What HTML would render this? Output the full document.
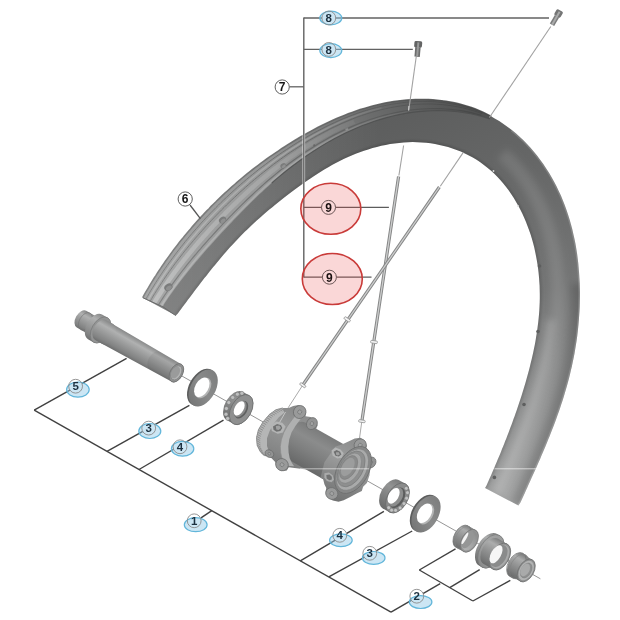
<!DOCTYPE html>
<html><head><meta charset="utf-8"><title>Wheel exploded view</title>
<style>html,body{margin:0;padding:0;background:#fff;}body{width:620px;height:620px;overflow:hidden;font-family:"Liberation Sans",sans-serif;}svg{display:block;filter:blur(0.4px);}</style>
</head><body>
<svg width="620" height="620" viewBox="0 0 620 620">
<defs><linearGradient id="cg1" gradientUnits="userSpaceOnUse" x1="139.0" y1="339.3" x2="128.4" y2="358.1"><stop offset="0" stop-color="#888989"/><stop offset="0.25" stop-color="#b0b1b1"/><stop offset="0.5" stop-color="#9c9d9d"/><stop offset="0.85" stop-color="#828383"/><stop offset="1" stop-color="#6f7070"/></linearGradient><linearGradient id="cg2" gradientUnits="userSpaceOnUse" x1="90.6" y1="313.3" x2="81.1" y2="330.0"><stop offset="0" stop-color="#888989"/><stop offset="0.25" stop-color="#b0b1b1"/><stop offset="0.5" stop-color="#9c9d9d"/><stop offset="0.85" stop-color="#828383"/><stop offset="1" stop-color="#6f7070"/></linearGradient><linearGradient id="cg3" gradientUnits="userSpaceOnUse" x1="105.0" y1="316.2" x2="91.0" y2="340.9"><stop offset="0" stop-color="#888989"/><stop offset="0.25" stop-color="#b0b1b1"/><stop offset="0.5" stop-color="#9c9d9d"/><stop offset="0.85" stop-color="#828383"/><stop offset="1" stop-color="#6f7070"/></linearGradient><linearGradient id="cg4" gradientUnits="userSpaceOnUse" x1="109.7" y1="322.2" x2="98.6" y2="341.8"><stop offset="0" stop-color="#888989"/><stop offset="0.25" stop-color="#b0b1b1"/><stop offset="0.5" stop-color="#9c9d9d"/><stop offset="0.85" stop-color="#828383"/><stop offset="1" stop-color="#6f7070"/></linearGradient><linearGradient id="cg5" gradientUnits="userSpaceOnUse" x1="213.0" y1="370.6" x2="193.3" y2="405.4"><stop offset="0" stop-color="#7c7d7d"/><stop offset="0.5" stop-color="#8a8b8b"/><stop offset="1" stop-color="#747575"/></linearGradient><linearGradient id="cg6" gradientUnits="userSpaceOnUse" x1="435.8" y1="496.7" x2="416.1" y2="531.5"><stop offset="0" stop-color="#7c7d7d"/><stop offset="0.5" stop-color="#8a8b8b"/><stop offset="1" stop-color="#747575"/></linearGradient><linearGradient id="cg7" gradientUnits="userSpaceOnUse" x1="245.8" y1="393.4" x2="229.7" y2="421.8"><stop offset="0" stop-color="#7a7b7b"/><stop offset="0.3" stop-color="#939494"/><stop offset="1" stop-color="#6a6b6b"/></linearGradient><linearGradient id="cg8" gradientUnits="userSpaceOnUse" x1="402.1" y1="481.8" x2="386.0" y2="510.2"><stop offset="0" stop-color="#7a7b7b"/><stop offset="0.3" stop-color="#939494"/><stop offset="1" stop-color="#6a6b6b"/></linearGradient><linearGradient id="cg9" gradientUnits="userSpaceOnUse" x1="471.8" y1="527.9" x2="459.6" y2="549.5"><stop offset="0" stop-color="#7d7e7e"/><stop offset="0.22" stop-color="#acadad"/><stop offset="0.45" stop-color="#989999"/><stop offset="0.8" stop-color="#7c7d7d"/><stop offset="1" stop-color="#6a6b6b"/></linearGradient><linearGradient id="cg10" gradientUnits="userSpaceOnUse" x1="474.7" y1="531.6" x2="464.2" y2="550.0"><stop offset="0" stop-color="#8a8b8b"/><stop offset="0.5" stop-color="#a4a5a5"/><stop offset="1" stop-color="#b3b4b4"/></linearGradient><linearGradient id="cg11" gradientUnits="userSpaceOnUse" x1="497.2" y1="534.1" x2="479.3" y2="565.8"><stop offset="0" stop-color="#7d7e7e"/><stop offset="0.22" stop-color="#acadad"/><stop offset="0.45" stop-color="#989999"/><stop offset="0.8" stop-color="#7c7d7d"/><stop offset="1" stop-color="#6a6b6b"/></linearGradient><linearGradient id="cg12" gradientUnits="userSpaceOnUse" x1="497.2" y1="534.1" x2="479.3" y2="565.8"><stop offset="0" stop-color="#9a9b9b"/><stop offset="0.5" stop-color="#a6a7a7"/><stop offset="1" stop-color="#868787"/></linearGradient><linearGradient id="cg13" gradientUnits="userSpaceOnUse" x1="507.2" y1="543.9" x2="492.8" y2="569.3"><stop offset="0" stop-color="#7d7e7e"/><stop offset="0.22" stop-color="#acadad"/><stop offset="0.45" stop-color="#989999"/><stop offset="0.8" stop-color="#7c7d7d"/><stop offset="1" stop-color="#6a6b6b"/></linearGradient><linearGradient id="cg14" gradientUnits="userSpaceOnUse" x1="527.9" y1="556.0" x2="514.7" y2="579.4"><stop offset="0" stop-color="#7d7e7e"/><stop offset="0.22" stop-color="#acadad"/><stop offset="0.45" stop-color="#989999"/><stop offset="0.8" stop-color="#7c7d7d"/><stop offset="1" stop-color="#6a6b6b"/></linearGradient><linearGradient id="cg15" gradientUnits="userSpaceOnUse" x1="527.4" y1="556.9" x2="515.2" y2="578.5"><stop offset="0" stop-color="#7d7e7e"/><stop offset="0.22" stop-color="#acadad"/><stop offset="0.45" stop-color="#989999"/><stop offset="0.8" stop-color="#7c7d7d"/><stop offset="1" stop-color="#6a6b6b"/></linearGradient><linearGradient id="hubl" gradientUnits="userSpaceOnUse" x1="300" y1="405" x2="272" y2="465"><stop offset="0" stop-color="#868787"/><stop offset="0.4" stop-color="#979898"/><stop offset="0.8" stop-color="#848585"/><stop offset="1" stop-color="#747575"/></linearGradient><linearGradient id="hubb" gradientUnits="userSpaceOnUse" x1="330.7" y1="437.2" x2="311.0" y2="472.0"><stop offset="0" stop-color="#7b7c7c"/><stop offset="0.3" stop-color="#8b8c8c"/><stop offset="0.6" stop-color="#7e7f7f"/><stop offset="1" stop-color="#686969"/></linearGradient><linearGradient id="hubr" gradientUnits="userSpaceOnUse" x1="360" y1="438" x2="334" y2="498"><stop offset="0" stop-color="#898a8a"/><stop offset="0.4" stop-color="#9b9c9c"/><stop offset="1" stop-color="#737474"/></linearGradient><filter id="noop" x="0" y="0" width="100%" height="100%" filterUnits="userSpaceOnUse"><feOffset dx="0" dy="0"/></filter></defs>
<defs>
<linearGradient id="gside" gradientUnits="userSpaceOnUse" x1="350" y1="100" x2="520" y2="500">
<stop offset="0" stop-color="#5b5c5c"/><stop offset="0.1" stop-color="#5e5f5f"/><stop offset="0.2" stop-color="#626363"/><stop offset="0.3" stop-color="#666767"/><stop offset="0.42" stop-color="#6c6d6d"/><stop offset="0.58" stop-color="#747575"/><stop offset="0.75" stop-color="#888989"/><stop offset="1" stop-color="#a0a1a1"/></linearGradient>
<linearGradient id="gbed" gradientUnits="userSpaceOnUse" x1="150" y1="300" x2="470" y2="100">
<stop offset="0" stop-color="#a6a7a7"/><stop offset="0.45" stop-color="#969797"/><stop offset="0.75" stop-color="#6c6d6d"/><stop offset="1" stop-color="#505151"/></linearGradient>
<linearGradient id="fadeL" gradientUnits="userSpaceOnUse" x1="150" y1="0" x2="440" y2="0"><stop offset="0" stop-color="#b8b9b9"/><stop offset="0.5" stop-color="#a8a9a9" stop-opacity="0.8"/><stop offset="1" stop-color="#777" stop-opacity="0"/></linearGradient>
<linearGradient id="fadeD" gradientUnits="userSpaceOnUse" x1="150" y1="0" x2="470" y2="0"><stop offset="0" stop-color="#828383"/><stop offset="0.6" stop-color="#626363" stop-opacity="0.9"/><stop offset="1" stop-color="#464747" stop-opacity="0.85"/></linearGradient>
<linearGradient id="fadeC" gradientUnits="userSpaceOnUse" x1="150" y1="0" x2="400" y2="0"><stop offset="0" stop-color="#c6c7c7" stop-opacity="0.8"/><stop offset="0.5" stop-color="#b0b1b1" stop-opacity="0.5"/><stop offset="1" stop-color="#888" stop-opacity="0"/></linearGradient>
<linearGradient id="leftlite" gradientUnits="userSpaceOnUse" x1="140" y1="0" x2="380" y2="0"><stop offset="0" stop-color="#fff" stop-opacity="0.20"/><stop offset="0.5" stop-color="#fff" stop-opacity="0.12"/><stop offset="1" stop-color="#fff" stop-opacity="0"/></linearGradient>
<filter id="b2" x="-20%" y="-20%" width="140%" height="140%"><feGaussianBlur stdDeviation="3.5"/></filter>
<filter id="b1" x="-20%" y="-20%" width="140%" height="140%"><feGaussianBlur stdDeviation="1.2"/></filter>
<filter id="b0" x="-20%" y="-20%" width="140%" height="140%"><feGaussianBlur stdDeviation="0.5"/></filter>
<clipPath id="rimclip"><polygon points="142.8,297.7 144.4,294.7 146.1,291.8 147.8,288.9 149.5,285.9 151.2,283.0 153.0,280.2 154.8,277.3 156.6,274.4 158.5,271.6 160.4,268.7 162.3,265.9 164.2,263.1 166.1,260.3 168.1,257.5 170.2,254.7 172.2,251.9 174.3,249.2 176.4,246.4 178.5,243.7 180.7,240.9 182.8,238.2 185.1,235.5 187.3,232.8 189.6,230.1 191.9,227.4 194.3,224.7 196.6,222.0 199.0,219.3 201.5,216.6 204.0,214.0 206.5,211.3 209.0,208.7 211.6,206.0 214.3,203.4 216.9,200.8 219.6,198.2 222.4,195.5 225.2,192.9 228.0,190.3 230.8,187.8 233.8,185.2 236.7,182.6 239.7,180.0 242.8,177.5 245.8,174.9 249.0,172.4 252.2,169.9 255.4,167.4 258.7,164.9 262.0,162.4 265.4,159.9 268.9,157.5 272.4,155.0 275.9,152.6 279.5,150.1 283.2,147.7 286.9,145.4 290.7,143.0 294.5,140.6 298.4,138.3 302.3,136.0 306.4,133.7 310.4,131.5 314.6,129.2 318.8,127.0 323.1,124.9 327.4,122.8 331.8,120.7 336.3,118.7 340.8,116.8 345.4,114.9 350.1,113.1 354.8,111.4 359.6,109.8 364.4,108.3 369.3,106.9 374.2,105.6 379.2,104.4 384.2,103.3 389.3,102.3 394.4,101.5 399.5,100.8 404.7,100.3 409.8,99.9 415.0,99.6 420.2,99.5 425.4,99.5 430.6,99.7 435.8,100.1 441.0,100.6 446.1,101.4 451.2,102.2 456.3,103.3 461.4,104.5 466.4,106.0 471.3,107.6 476.1,109.4 480.9,111.3 485.6,113.5 490.2,115.8 494.7,118.4 499.2,121.0 503.5,123.9 507.7,126.9 511.8,130.0 515.8,133.3 519.6,136.8 523.4,140.3 527.0,144.0 530.5,147.8 533.9,151.7 537.2,155.8 540.3,159.9 543.3,164.1 546.2,168.4 549.0,172.8 551.6,177.2 554.1,181.7 556.5,186.3 558.7,190.9 560.9,195.6 562.8,200.3 564.7,205.1 566.5,209.9 568.1,214.7 569.6,219.5 571.0,224.4 572.3,229.3 573.4,234.2 574.5,239.1 575.5,243.9 576.3,248.8 577.1,253.7 577.7,258.6 578.3,263.4 578.7,268.3 579.1,273.1 579.4,277.8 579.7,282.6 579.8,287.3 579.9,292.0 579.9,296.7 579.8,301.3 579.7,305.9 579.5,310.5 579.2,315.0 578.9,319.5 578.5,323.9 578.1,328.3 577.6,332.7 577.1,337.1 576.5,341.3 575.8,345.6 575.1,349.8 574.4,354.0 573.6,358.1 572.7,362.2 571.9,366.3 570.9,370.3 570.0,374.2 569.0,378.2 568.0,382.1 566.9,385.9 565.8,389.7 564.7,393.5 563.6,397.2 562.4,400.9 561.2,404.6 560.0,408.2 558.8,411.8 557.5,415.3 556.2,418.9 555.0,422.3 553.7,425.8 552.3,429.2 551.0,432.6 549.7,436.0 548.3,439.3 547.0,442.6 545.6,445.9 544.2,449.2 542.8,452.4 541.4,455.7 540.1,458.9 538.7,462.1 537.3,465.2 535.9,468.4 534.5,471.5 533.0,474.7 531.6,477.8 530.2,480.9 528.8,484.1 527.4,487.2 526.0,490.3 524.6,493.4 523.2,496.5 521.8,499.6 520.3,502.8 518.4,505.6 485.0,487.9 486.5,485.5 487.6,482.9 488.8,480.3 489.9,477.7 491.1,475.2 492.2,472.6 493.3,470.0 494.4,467.4 495.5,464.8 496.6,462.2 497.7,459.6 498.8,457.0 499.9,454.4 501.0,451.7 502.0,449.1 503.1,446.4 504.2,443.8 505.2,441.1 506.3,438.4 507.3,435.7 508.4,433.0 509.4,430.2 510.4,427.5 511.5,424.7 512.5,421.9 513.5,419.1 514.6,416.2 515.6,413.3 516.6,410.4 517.6,407.5 518.6,404.6 519.6,401.6 520.6,398.6 521.6,395.5 522.5,392.4 523.5,389.3 524.4,386.2 525.4,383.0 526.3,379.8 527.2,376.5 528.1,373.2 529.0,369.9 529.9,366.5 530.7,363.0 531.6,359.6 532.4,356.1 533.2,352.5 533.9,348.9 534.7,345.2 535.4,341.6 536.0,337.8 536.6,334.0 537.2,330.2 537.7,326.3 538.2,322.4 538.6,318.5 539.0,314.5 539.3,310.5 539.5,306.4 539.7,302.3 539.8,298.2 539.8,294.1 539.7,289.9 539.6,285.7 539.3,281.5 539.0,277.2 538.6,273.0 538.1,268.7 537.5,264.4 536.8,260.2 536.0,255.9 535.1,251.6 534.2,247.3 533.1,243.1 531.9,238.8 530.6,234.6 529.2,230.4 527.6,226.2 526.0,222.0 524.3,217.9 522.4,213.8 520.4,209.8 518.3,205.8 516.1,201.9 513.8,198.0 511.3,194.3 508.8,190.6 506.1,187.0 503.3,183.5 500.3,180.1 497.3,176.8 494.1,173.6 490.8,170.6 487.4,167.7 483.9,164.9 480.3,162.3 476.6,159.8 472.8,157.5 468.9,155.4 464.9,153.4 460.8,151.6 456.6,149.9 452.4,148.4 448.1,147.0 443.8,145.9 439.4,144.9 435.0,144.0 430.6,143.3 426.1,142.8 421.6,142.4 417.1,142.2 412.6,142.1 408.1,142.2 403.6,142.5 399.1,142.9 394.6,143.4 390.1,144.1 385.7,144.9 381.3,145.8 376.9,146.9 372.5,148.1 368.2,149.4 364.0,150.8 359.8,152.3 355.7,153.8 351.6,155.5 347.5,157.3 343.6,159.1 339.7,161.1 335.8,163.0 332.0,165.1 328.3,167.2 324.7,169.3 321.1,171.5 317.6,173.7 314.1,175.9 310.8,178.2 307.4,180.4 304.2,182.7 301.0,185.0 297.9,187.3 294.8,189.6 291.8,191.8 288.8,194.1 285.9,196.3 283.0,198.6 280.2,200.8 277.4,203.0 274.6,205.2 272.0,207.4 269.3,209.6 266.7,211.8 264.1,214.0 261.6,216.2 259.1,218.4 256.7,220.6 254.3,222.8 251.9,225.0 249.6,227.2 247.3,229.4 245.0,231.6 242.8,233.8 240.6,236.0 238.5,238.2 236.4,240.4 234.3,242.7 232.2,244.9 230.2,247.1 228.2,249.3 226.3,251.6 224.3,253.8 222.4,256.0 220.5,258.2 218.7,260.4 216.8,262.7 215.0,264.9 213.2,267.1 211.4,269.3 209.6,271.5 207.9,273.7 206.2,275.9 204.4,278.1 202.7,280.3 201.0,282.5 199.3,284.7 197.6,286.9 196.0,289.1 194.3,291.3 192.7,293.5 191.0,295.7 189.3,297.9 187.7,300.1 186.0,302.4 184.4,304.6 182.7,306.8 181.1,309.0 179.4,311.3 177.8,313.5 175.8,315.6"/></clipPath>

</defs>
<g id="rim">
<polygon points="142.8,297.7 144.4,294.7 146.1,291.8 147.8,288.9 149.5,285.9 151.2,283.0 153.0,280.2 154.8,277.3 156.6,274.4 158.5,271.6 160.4,268.7 162.3,265.9 164.2,263.1 166.1,260.3 168.1,257.5 170.2,254.7 172.2,251.9 174.3,249.2 176.4,246.4 178.5,243.7 180.7,240.9 182.8,238.2 185.1,235.5 187.3,232.8 189.6,230.1 191.9,227.4 194.3,224.7 196.6,222.0 199.0,219.3 201.5,216.6 204.0,214.0 206.5,211.3 209.0,208.7 211.6,206.0 214.3,203.4 216.9,200.8 219.6,198.2 222.4,195.5 225.2,192.9 228.0,190.3 230.8,187.8 233.8,185.2 236.7,182.6 239.7,180.0 242.8,177.5 245.8,174.9 249.0,172.4 252.2,169.9 255.4,167.4 258.7,164.9 262.0,162.4 265.4,159.9 268.9,157.5 272.4,155.0 275.9,152.6 279.5,150.1 283.2,147.7 286.9,145.4 290.7,143.0 294.5,140.6 298.4,138.3 302.3,136.0 306.4,133.7 310.4,131.5 314.6,129.2 318.8,127.0 323.1,124.9 327.4,122.8 331.8,120.7 336.3,118.7 340.8,116.8 345.4,114.9 350.1,113.1 354.8,111.4 359.6,109.8 364.4,108.3 369.3,106.9 374.2,105.6 379.2,104.4 384.2,103.3 389.3,102.3 394.4,101.5 399.5,100.8 404.7,100.3 409.8,99.9 415.0,99.6 420.2,99.5 425.4,99.5 430.6,99.7 435.8,100.1 441.0,100.6 446.1,101.4 451.2,102.2 456.3,103.3 461.4,104.5 466.4,106.0 471.3,107.6 476.1,109.4 480.9,111.3 485.6,113.5 490.2,115.8 494.7,118.4 499.2,121.0 503.5,123.9 507.7,126.9 511.8,130.0 515.8,133.3 519.6,136.8 523.4,140.3 527.0,144.0 530.5,147.8 533.9,151.7 537.2,155.8 540.3,159.9 543.3,164.1 546.2,168.4 549.0,172.8 551.6,177.2 554.1,181.7 556.5,186.3 558.7,190.9 560.9,195.6 562.8,200.3 564.7,205.1 566.5,209.9 568.1,214.7 569.6,219.5 571.0,224.4 572.3,229.3 573.4,234.2 574.5,239.1 575.5,243.9 576.3,248.8 577.1,253.7 577.7,258.6 578.3,263.4 578.7,268.3 579.1,273.1 579.4,277.8 579.7,282.6 579.8,287.3 579.9,292.0 579.9,296.7 579.8,301.3 579.7,305.9 579.5,310.5 579.2,315.0 578.9,319.5 578.5,323.9 578.1,328.3 577.6,332.7 577.1,337.1 576.5,341.3 575.8,345.6 575.1,349.8 574.4,354.0 573.6,358.1 572.7,362.2 571.9,366.3 570.9,370.3 570.0,374.2 569.0,378.2 568.0,382.1 566.9,385.9 565.8,389.7 564.7,393.5 563.6,397.2 562.4,400.9 561.2,404.6 560.0,408.2 558.8,411.8 557.5,415.3 556.2,418.9 555.0,422.3 553.7,425.8 552.3,429.2 551.0,432.6 549.7,436.0 548.3,439.3 547.0,442.6 545.6,445.9 544.2,449.2 542.8,452.4 541.4,455.7 540.1,458.9 538.7,462.1 537.3,465.2 535.9,468.4 534.5,471.5 533.0,474.7 531.6,477.8 530.2,480.9 528.8,484.1 527.4,487.2 526.0,490.3 524.6,493.4 523.2,496.5 521.8,499.6 520.3,502.8 518.4,505.6 485.0,487.9 486.5,485.5 487.6,482.9 488.8,480.3 489.9,477.7 491.1,475.2 492.2,472.6 493.3,470.0 494.4,467.4 495.5,464.8 496.6,462.2 497.7,459.6 498.8,457.0 499.9,454.4 501.0,451.7 502.0,449.1 503.1,446.4 504.2,443.8 505.2,441.1 506.3,438.4 507.3,435.7 508.4,433.0 509.4,430.2 510.4,427.5 511.5,424.7 512.5,421.9 513.5,419.1 514.6,416.2 515.6,413.3 516.6,410.4 517.6,407.5 518.6,404.6 519.6,401.6 520.6,398.6 521.6,395.5 522.5,392.4 523.5,389.3 524.4,386.2 525.4,383.0 526.3,379.8 527.2,376.5 528.1,373.2 529.0,369.9 529.9,366.5 530.7,363.0 531.6,359.6 532.4,356.1 533.2,352.5 533.9,348.9 534.7,345.2 535.4,341.6 536.0,337.8 536.6,334.0 537.2,330.2 537.7,326.3 538.2,322.4 538.6,318.5 539.0,314.5 539.3,310.5 539.5,306.4 539.7,302.3 539.8,298.2 539.8,294.1 539.7,289.9 539.6,285.7 539.3,281.5 539.0,277.2 538.6,273.0 538.1,268.7 537.5,264.4 536.8,260.2 536.0,255.9 535.1,251.6 534.2,247.3 533.1,243.1 531.9,238.8 530.6,234.6 529.2,230.4 527.6,226.2 526.0,222.0 524.3,217.9 522.4,213.8 520.4,209.8 518.3,205.8 516.1,201.9 513.8,198.0 511.3,194.3 508.8,190.6 506.1,187.0 503.3,183.5 500.3,180.1 497.3,176.8 494.1,173.6 490.8,170.6 487.4,167.7 483.9,164.9 480.3,162.3 476.6,159.8 472.8,157.5 468.9,155.4 464.9,153.4 460.8,151.6 456.6,149.9 452.4,148.4 448.1,147.0 443.8,145.9 439.4,144.9 435.0,144.0 430.6,143.3 426.1,142.8 421.6,142.4 417.1,142.2 412.6,142.1 408.1,142.2 403.6,142.5 399.1,142.9 394.6,143.4 390.1,144.1 385.7,144.9 381.3,145.8 376.9,146.9 372.5,148.1 368.2,149.4 364.0,150.8 359.8,152.3 355.7,153.8 351.6,155.5 347.5,157.3 343.6,159.1 339.7,161.1 335.8,163.0 332.0,165.1 328.3,167.2 324.7,169.3 321.1,171.5 317.6,173.7 314.1,175.9 310.8,178.2 307.4,180.4 304.2,182.7 301.0,185.0 297.9,187.3 294.8,189.6 291.8,191.8 288.8,194.1 285.9,196.3 283.0,198.6 280.2,200.8 277.4,203.0 274.6,205.2 272.0,207.4 269.3,209.6 266.7,211.8 264.1,214.0 261.6,216.2 259.1,218.4 256.7,220.6 254.3,222.8 251.9,225.0 249.6,227.2 247.3,229.4 245.0,231.6 242.8,233.8 240.6,236.0 238.5,238.2 236.4,240.4 234.3,242.7 232.2,244.9 230.2,247.1 228.2,249.3 226.3,251.6 224.3,253.8 222.4,256.0 220.5,258.2 218.7,260.4 216.8,262.7 215.0,264.9 213.2,267.1 211.4,269.3 209.6,271.5 207.9,273.7 206.2,275.9 204.4,278.1 202.7,280.3 201.0,282.5 199.3,284.7 197.6,286.9 196.0,289.1 194.3,291.3 192.7,293.5 191.0,295.7 189.3,297.9 187.7,300.1 186.0,302.4 184.4,304.6 182.7,306.8 181.1,309.0 179.4,311.3 177.8,313.5 175.8,315.6" fill="url(#gside)"/>
<g clip-path="url(#rimclip)"><rect x="130" y="90" width="260" height="240" fill="url(#leftlite)"/><polyline points="502.2,154.0 506.4,157.8 510.4,161.8 514.2,166.0 517.9,170.3 521.4,174.7 524.7,179.3 527.9,184.0 530.9,188.8 533.7,193.7 536.3,198.7 538.8,203.7 541.1,208.9 543.3,214.1 545.2,219.3 547.1,224.6 548.7,229.9 550.2,235.2 551.6,240.6 552.8,245.9 553.9,251.3 554.8,256.7 555.6,262.0 556.2,267.4 556.7,272.7 557.2,278.0 557.4,283.3 557.6,288.5 557.7,293.7 557.6,298.8 557.5,303.9 557.3,309.0 557.0,314.0 556.6,319.0 556.1,323.9 555.5,328.7 554.9,333.5 554.2,338.3 553.5,342.9 552.7,347.5 551.8,352.1 550.9,356.6 549.9,361.0 548.9,365.4 547.9,369.7 546.8,374.0 545.7,378.2 544.6,382.4 543.4,386.5 542.2,390.5 541.0,394.5 539.8,398.5 538.5,402.4 537.2,406.3 535.9,410.1 534.6,413.8 533.3,417.6 531.9,421.3 530.6,424.9 529.2,428.5 527.8,432.1 526.4,435.7 525.0,439.2 523.6,442.7 522.2,446.1 520.8,449.6 519.3,453.0 517.9,456.4 516.5,459.8 515.0,463.2 513.6,466.5 512.1,469.9 510.6,473.2 509.2,476.6 507.7,479.9 506.2,483.2 504.7,486.5 503.2,489.9 501.7,493.2 500.2,496.5" fill="none" stroke="#fff" stroke-opacity="0.10" stroke-width="14" filter="url(#b2)"/>
<polyline points="550.5,319.8 550.0,324.3 549.5,328.8 548.9,333.2 548.2,337.6 547.5,342.0 546.7,346.2 545.9,350.5 545.1,354.6 544.2,358.8 543.3,362.8 542.3,366.9 541.3,370.8 540.3,374.7 539.3,378.6 538.2,382.4 537.1,386.2 536.0,389.9 534.9,393.6 533.8,397.2 532.6,400.8 531.5,404.4 530.3,407.9 529.1,411.3 527.9,414.8 526.6,418.2 525.4,421.6 524.2,424.9 522.9,428.2 521.7,431.5 520.4,434.7 519.1,438.0 517.9,441.2 516.6,444.4 515.3,447.5 514.0,450.7 512.7,453.8 511.4,456.9 510.1,460.0 508.8,463.1 507.4,466.2 506.1,469.3 504.8,472.3 503.4,475.4 502.1,478.4 500.7,481.5 499.4,484.5 498.0,487.6 496.6,490.6 495.2,493.7" fill="none" stroke="#fff" stroke-opacity="0.16" stroke-width="9" filter="url(#b2)"/>
<polyline points="579.7,283.6 579.8,289.3 579.9,295.0 579.8,300.7 579.7,306.3 579.4,311.9 579.1,317.4 578.6,322.8 578.1,328.2 577.5,333.5 576.8,338.8 576.1,344.0 575.2,349.2 574.3,354.3 573.3,359.3 572.3,364.3 571.2,369.2 570.0,374.0 568.8,378.8 567.6,383.6 566.3,388.2 564.9,392.9 563.5,397.4 562.1,401.9 560.6,406.4 559.1,410.8 557.6,415.1 556.1,419.4 554.5,423.6 552.9,427.8 551.3,432.0 549.6,436.1 548.0,440.2 546.3,444.2 544.6,448.2 543.0,452.2 541.3,456.1 539.6,460.0 537.9,463.9 536.1,467.8 534.4,471.6 532.7,475.4 531.0,479.2 529.3,483.1 527.5,486.9 525.8,490.7 524.1,494.5 522.4,498.3 520.6,502.1 518.9,505.9" fill="none" stroke="#000" stroke-opacity="0.16" stroke-width="16" filter="url(#b2)"/>
<polyline points="175.8,315.6 177.8,313.5 179.4,311.3 181.1,309.0 182.7,306.8 184.4,304.6 186.0,302.4 187.7,300.1 189.3,297.9 191.0,295.7 192.7,293.5 194.3,291.3 196.0,289.1 197.6,286.9 199.3,284.7 201.0,282.5 202.7,280.3 204.4,278.1 206.2,275.9 207.9,273.7 209.6,271.5 211.4,269.3 213.2,267.1 215.0,264.9 216.8,262.7 218.7,260.4 220.5,258.2 222.4,256.0 224.3,253.8 226.3,251.6 228.2,249.3 230.2,247.1 232.2,244.9 234.3,242.7 236.4,240.4 238.5,238.2 240.6,236.0 242.8,233.8 245.0,231.6 247.3,229.4 249.6,227.2 251.9,225.0 254.3,222.8 256.7,220.6 259.1,218.4 261.6,216.2 264.1,214.0 266.7,211.8 269.3,209.6 272.0,207.4 274.6,205.2 277.4,203.0 280.2,200.8 283.0,198.6 285.9,196.3 288.8,194.1 291.8,191.8 294.8,189.6 297.9,187.3 301.0,185.0 304.2,182.7 307.4,180.4 310.8,178.2 314.1,175.9 317.6,173.7 321.1,171.5 324.7,169.3 328.3,167.2 332.0,165.1 335.8,163.0 339.7,161.1 343.6,159.1 347.5,157.3 351.6,155.5 355.7,153.8 359.8,152.3 364.0,150.8 368.2,149.4 372.5,148.1 376.9,146.9 381.3,145.8 385.7,144.9 390.1,144.1 394.6,143.4 399.1,142.9 403.6,142.5 408.1,142.2 412.6,142.1 417.1,142.2 421.6,142.4 426.1,142.8 430.6,143.3 435.0,144.0 439.4,144.9 443.8,145.9 448.1,147.0 452.4,148.4 456.6,149.9 460.8,151.6 464.9,153.4 468.9,155.4 472.8,157.5 476.6,159.8 480.3,162.3 483.9,164.9 487.4,167.7 490.8,170.6 494.1,173.6 497.3,176.8 500.3,180.1 503.3,183.5 506.1,187.0 508.8,190.6 511.3,194.3 513.8,198.0 516.1,201.9 518.3,205.8 520.4,209.8 522.4,213.8 524.3,217.9 526.0,222.0 527.6,226.2 529.2,230.4 530.6,234.6 531.9,238.8 533.1,243.1 534.2,247.3 535.1,251.6 536.0,255.9 536.8,260.2 537.5,264.4 538.1,268.7 538.6,273.0 539.0,277.2 539.3,281.5 539.6,285.7 539.7,289.9 539.8,294.1 539.8,298.2 539.7,302.3 539.5,306.4 539.3,310.5 539.0,314.5 538.6,318.5 538.2,322.4 537.7,326.3 537.2,330.2 536.6,334.0 536.0,337.8 535.4,341.6 534.7,345.2 533.9,348.9 533.2,352.5 532.4,356.1 531.6,359.6 530.7,363.0 529.9,366.5 529.0,369.9 528.1,373.2 527.2,376.5 526.3,379.8 525.4,383.0 524.4,386.2 523.5,389.3 522.5,392.4 521.6,395.5 520.6,398.6 519.6,401.6 518.6,404.6 517.6,407.5 516.6,410.4 515.6,413.3 514.6,416.2 513.5,419.1 512.5,421.9 511.5,424.7 510.4,427.5 509.4,430.2 508.4,433.0 507.3,435.7 506.3,438.4 505.2,441.1 504.2,443.8 503.1,446.4 502.0,449.1 501.0,451.7 499.9,454.4 498.8,457.0 497.7,459.6 496.6,462.2 495.5,464.8 494.4,467.4 493.3,470.0 492.2,472.6 491.1,475.2 489.9,477.7 488.8,480.3 487.6,482.9 486.5,485.5 485.0,487.9" fill="none" stroke="#000" stroke-opacity="0.13" stroke-width="4" filter="url(#b1)"/>
<polyline points="511.8,130.0 515.8,133.3 519.6,136.8 523.4,140.3 527.0,144.0 530.5,147.8 533.9,151.7 537.2,155.8 540.3,159.9 543.3,164.1 546.2,168.4 549.0,172.8 551.6,177.2 554.1,181.7 556.5,186.3 558.7,190.9 560.9,195.6 562.8,200.3 564.7,205.1 566.5,209.9 568.1,214.7 569.6,219.5 571.0,224.4 572.3,229.3 573.4,234.2 574.5,239.1 575.5,243.9 576.3,248.8 577.1,253.7 577.7,258.6 578.3,263.4 578.7,268.3 579.1,273.1 579.4,277.8 579.7,282.6 579.8,287.3 579.9,292.0 579.9,296.7 579.8,301.3 579.7,305.9 579.5,310.5 579.2,315.0 578.9,319.5 578.5,323.9 578.1,328.3 577.6,332.7 577.1,337.1 576.5,341.3 575.8,345.6 575.1,349.8 574.4,354.0 573.6,358.1 572.7,362.2 571.9,366.3 570.9,370.3 570.0,374.2 569.0,378.2 568.0,382.1 566.9,385.9 565.8,389.7 564.7,393.5 563.6,397.2 562.4,400.9 561.2,404.6 560.0,408.2 558.8,411.8 557.5,415.3 556.2,418.9 555.0,422.3 553.7,425.8 552.3,429.2 551.0,432.6 549.7,436.0 548.3,439.3 547.0,442.6 545.6,445.9 544.2,449.2 542.8,452.4 541.4,455.7 540.1,458.9 538.7,462.1 537.3,465.2 535.9,468.4 534.5,471.5 533.0,474.7 531.6,477.8 530.2,480.9 528.8,484.1 527.4,487.2 526.0,490.3 524.6,493.4 523.2,496.5 521.8,499.6 520.3,502.8 518.4,505.6" fill="none" stroke="#fff" stroke-opacity="0.16" stroke-width="3" filter="url(#b0)"/>
</g>
<polygon points="142.8,297.7 144.1,295.2 145.5,292.7 147.0,290.2 148.4,287.8 149.8,285.3 151.3,282.9 152.8,280.5 154.3,278.0 155.9,275.6 157.4,273.2 159.0,270.8 160.6,268.4 162.2,266.0 163.8,263.7 165.4,261.3 167.1,259.0 168.8,256.6 170.5,254.3 172.2,251.9 173.9,249.6 175.7,247.3 177.5,245.0 179.3,242.6 181.1,240.3 183.0,238.0 184.8,235.7 186.7,233.5 188.6,231.2 190.6,228.9 192.5,226.6 194.5,224.4 196.5,222.1 198.5,219.9 200.6,217.6 202.7,215.4 204.8,213.1 206.9,210.9 209.1,208.7 211.2,206.4 213.4,204.2 215.7,202.0 217.9,199.8 220.2,197.6 222.5,195.4 224.9,193.2 227.3,191.0 229.7,188.8 232.1,186.7 234.6,184.5 237.0,182.3 239.6,180.2 242.1,178.0 244.7,175.9 247.4,173.7 250.0,171.6 252.7,169.5 255.4,167.4 258.2,165.3 261.0,163.2 263.8,161.1 266.7,159.0 269.6,156.9 272.6,154.9 275.6,152.8 278.6,150.8 281.6,148.7 284.8,146.7 287.9,144.7 291.1,142.7 294.3,140.7 297.6,138.8 300.9,136.8 304.3,134.9 307.7,133.0 311.1,131.1 314.6,129.2 318.2,127.3 321.8,125.5 325.4,123.7 329.1,122.0 332.8,120.3 336.6,118.6 340.4,117.0 344.3,115.4 348.2,113.8 352.1,112.4 356.1,111.0 360.1,109.6 364.2,108.4 368.3,107.2 372.5,106.0 376.6,105.0 380.8,104.0 385.1,103.1 389.3,102.3 393.6,101.6 398.0,101.0 402.3,100.5 406.6,100.1 411.0,99.8 415.4,99.6 419.7,99.5 424.1,99.5 428.5,99.6 432.9,99.9 437.2,100.2 441.6,100.7 445.9,101.3 450.2,102.0 454.5,102.9 458.8,103.9 463.0,105.0 467.2,106.2 471.4,107.6 475.5,109.1 479.5,110.7 483.5,112.5 487.4,114.4 491.3,116.4 489.8,118.9 485.7,117.5 481.5,116.3 477.2,115.2 473.0,114.3 468.7,113.4 464.4,112.7 460.0,112.0 455.7,111.5 451.3,111.1 446.9,110.9 442.6,110.7 438.2,110.6 433.8,110.7 429.5,110.8 425.1,111.1 420.8,111.4 416.4,111.8 412.1,112.4 407.8,113.0 403.6,113.7 399.4,114.6 395.1,115.5 391.0,116.4 386.8,117.5 382.7,118.7 378.7,119.9 374.6,121.2 370.7,122.5 366.7,123.9 362.8,125.4 359.0,127.0 355.1,128.6 351.4,130.2 347.7,132.0 344.0,133.7 340.4,135.5 336.8,137.4 333.3,139.3 329.9,141.2 326.5,143.1 323.1,145.1 319.8,147.1 316.5,149.2 313.3,151.2 310.2,153.3 307.1,155.4 304.0,157.5 301.0,159.6 298.1,161.8 295.2,163.9 292.3,166.1 289.5,168.3 286.7,170.5 284.0,172.6 281.3,174.8 278.7,177.0 276.1,179.2 273.6,181.4 271.1,183.6 268.6,185.9 266.2,188.1 263.8,190.2 261.5,192.4 259.1,194.6 256.9,196.8 254.6,199.0 252.4,201.1 250.2,203.3 248.1,205.4 245.9,207.6 243.8,209.7 241.8,211.8 239.7,213.9 237.7,216.0 235.7,218.1 233.7,220.1 231.8,222.2 229.8,224.2 227.9,226.2 226.0,228.3 224.1,230.3 222.2,232.3 220.4,234.3 218.6,236.3 216.7,238.3 214.9,240.2 213.2,242.2 211.4,244.2 209.6,246.2 207.9,248.1 206.1,250.1 204.4,252.0 202.7,254.0 201.0,256.0 199.3,257.9 197.7,259.9 196.0,261.8 194.4,263.8 192.7,265.8 191.1,267.7 189.5,269.7 187.9,271.7 186.3,273.7 184.7,275.7 183.1,277.7 181.6,279.7 180.0,281.7 178.5,283.7 177.0,285.7 175.5,287.8 174.0,289.8 172.5,291.9 171.0,293.9 169.6,296.0 168.1,298.1 166.7,300.2 165.3,302.3 163.9,304.5 162.9,306.8" fill="url(#gbed)"/>
<polyline points="154.2,302.9 154.9,301.6 156.1,299.6 157.4,297.6 158.6,295.7 159.9,293.7 161.2,291.7 162.4,289.7 163.7,287.8 165.0,285.8 166.4,283.9 167.7,282.0 169.0,280.0 170.4,278.1 171.8,276.2 173.1,274.3 174.5,272.4 175.9,270.5 177.4,268.6 178.8,266.7 180.2,264.9 181.7,263.0 183.1,261.1 184.6,259.2 186.1,257.4 187.6,255.5 189.1,253.7 190.6,251.8 192.1,250.0 193.7,248.1 195.2,246.3 196.8,244.4 198.4,242.6 200.0,240.8 201.6,238.9 203.2,237.1 204.9,235.2 206.5,233.4 208.2,231.6 209.8,229.7 211.5,227.9 213.2,226.0 215.0,224.2 216.7,222.4 218.5,220.5 220.2,218.7 222.0,216.8 223.8,215.0 225.6,213.1 227.5,211.2 229.3,209.4 231.2,207.5 233.1,205.7 235.0,203.8 237.0,201.9 238.9,200.0 240.9,198.1 242.9,196.3 244.9,194.4 247.0,192.5 249.0,190.6 251.1,188.7 253.3,186.8 255.4,184.9 257.6,183.0 259.8,181.1 262.0,179.2 264.3,177.3 266.6,175.4 268.9,173.5 271.2,171.6 273.6,169.7 276.0,167.9 278.4,166.0 280.9,164.1 283.4,162.2 286.0,160.4 288.5,158.5 291.1,156.7 293.8,154.8 296.5,153.0 299.2,151.2 301.9,149.4 304.7,147.6 307.5,145.8 310.4,144.0 313.3,142.3 316.2,140.5 319.2,138.8 322.2,137.1 325.2,135.4 328.3,133.8 331.4,132.1 334.6,130.5 337.8,129.0 341.0,127.4 344.3,125.9 347.6,124.5 351.0,123.1 354.3,121.7" fill="none" stroke="url(#fadeC)" stroke-width="4.5" filter="url(#b0)"/>
<polyline points="145.9,299.1 147.4,296.5 149.1,293.6 150.7,290.7 152.5,287.9 154.2,285.1 155.9,282.3 157.7,279.5 159.5,276.7 161.4,273.9 163.2,271.2 165.1,268.4 167.0,265.7 168.9,263.0 170.9,260.3 172.9,257.6 174.9,254.9 176.9,252.2 179.0,249.5 181.1,246.8 183.2,244.2 185.3,241.5 187.5,238.9 189.7,236.2 191.9,233.6 194.2,231.0 196.5,228.4 198.8,225.8 201.1,223.1 203.5,220.5 205.9,217.9 208.4,215.3 210.9,212.7 213.4,210.2 215.9,207.6 218.5,205.0 221.1,202.4 223.8,199.8 226.5,197.3 229.2,194.7 232.0,192.2 234.8,189.6 237.7,187.0 240.6,184.5 243.5,182.0 246.5,179.4 249.5,176.9 252.6,174.4 255.8,171.8 258.9,169.3 262.2,166.8 265.5,164.4 268.8,161.9 272.2,159.4 275.6,156.9 279.1,154.5 282.7,152.1 286.3,149.7 290.0,147.3 293.7,144.9 297.5,142.5 301.3,140.2 305.3,137.9 309.2,135.6 313.3,133.3 317.4,131.1 321.6,128.9 325.8,126.7 330.1,124.6 334.5,122.6 338.9,120.6 343.4,118.6 348.0,116.8 352.6,115.0 357.3,113.3 362.0,111.7 366.8,110.2 371.7,108.8 376.6,107.5 381.5,106.3 386.5,105.3 391.5,104.3 396.6,103.5 401.7,102.8 406.8,102.2 411.9,101.8 417.1,101.5 422.3,101.4 427.4,101.5 432.6,101.6 437.7,102.0 442.9,102.5 448.0,103.2 453.1,104.1 458.2,105.1 463.2,106.3 468.1,107.7 473.1,109.2 477.9,111.0 482.7,112.9" fill="none" stroke="url(#fadeD)" stroke-width="1"/>
<polyline points="148.1,300.1 149.2,298.2 150.5,295.9 151.8,293.7 153.2,291.5 154.5,289.2 155.9,287.0 157.3,284.8 158.7,282.6 160.1,280.4 161.6,278.2 163.0,276.1 164.5,273.9 166.0,271.7 167.5,269.6 169.0,267.4 170.5,265.3 172.1,263.2 173.6,261.0 175.2,258.9 176.8,256.8 178.4,254.7 180.1,252.6 181.7,250.5 183.4,248.4 185.0,246.3 186.7,244.2 188.4,242.1 190.2,240.1 191.9,238.0 193.7,235.9 195.4,233.9 197.2,231.8 199.1,229.7 200.9,227.7 202.7,225.6 204.6,223.6 206.5,221.5 208.4,219.5 210.3,217.4 212.3,215.4 214.3,213.3 216.3,211.3 218.3,209.2 220.3,207.2 222.4,205.1 224.5,203.1 226.6,201.1 228.7,199.0 230.8,197.0 233.0,195.0 235.2,192.9 237.5,190.9 239.7,188.9 242.0,186.8 244.3,184.8 246.7,182.8 249.0,180.7 251.4,178.7 253.9,176.7 256.3,174.7 258.8,172.7 261.3,170.6 263.9,168.6 266.5,166.6 269.1,164.7 271.8,162.7 274.5,160.7 277.2,158.7 280.0,156.7 282.8,154.8 285.6,152.8 288.5,150.9 291.4,149.0 294.4,147.1 297.4,145.2 300.4,143.3 303.5,141.4 306.6,139.5 309.8,137.7 313.0,135.8 316.2,134.0 319.5,132.2 322.8,130.5 326.2,128.7 329.6,127.0 333.0,125.4 336.5,123.7 340.1,122.1 343.6,120.6 347.3,119.1 350.9,117.6 354.6,116.2 358.3,114.8 362.1,113.5 365.9,112.3 369.8,111.1 373.6,110.0 377.5,109.0 381.5,108.0" fill="none" stroke="url(#fadeL)" stroke-width="1.6"/>
<polyline points="150.3,301.1 151.6,298.8 153.2,296.0 154.9,293.3 156.6,290.5 158.3,287.8 160.1,285.1 161.9,282.4 163.6,279.7 165.5,277.0 167.3,274.4 169.2,271.7 171.1,269.1 173.0,266.4 174.9,263.8 176.9,261.2 178.9,258.6 180.9,256.0 182.9,253.4 184.9,250.8 187.0,248.3 189.1,245.7 191.3,243.1 193.4,240.6 195.6,238.0 197.8,235.5 200.0,232.9 202.3,230.4 204.6,227.8 206.9,225.3 209.2,222.8 211.6,220.2 214.0,217.7 216.4,215.2 218.9,212.6 221.4,210.1 224.0,207.5 226.5,205.0 229.1,202.5 231.8,199.9 234.5,197.4 237.2,194.9 239.9,192.3 242.8,189.8 245.6,187.2 248.5,184.7 251.4,182.1 254.4,179.6 257.4,177.1 260.5,174.5 263.7,172.0 266.9,169.5 270.1,167.0 273.4,164.4 276.7,162.0 280.1,159.5 283.6,157.0 287.1,154.5 290.7,152.1 294.4,149.7 298.1,147.3 301.9,144.9 305.7,142.5 309.6,140.1 313.6,137.8 317.6,135.5 321.7,133.3 325.9,131.1 330.1,128.9 334.4,126.8 338.8,124.8 343.2,122.8 347.7,120.9 352.3,119.0 356.9,117.2 361.6,115.6 366.4,114.0 371.2,112.5 376.0,111.1 380.9,109.8 385.9,108.7 390.8,107.6 395.9,106.7 400.9,105.9 406.0,105.2 411.1,104.7 416.3,104.3 421.4,104.1 426.6,104.0 431.8,104.0 436.9,104.3 442.1,104.6 447.2,105.2 452.3,105.9 457.4,106.8 462.5,107.8 467.5,109.0 472.5,110.4 477.4,112.0 482.2,113.7" fill="none" stroke="url(#fadeD)" stroke-width="1"/>
<polyline points="158.6,304.8 159.5,303.3 161.1,300.7 162.8,298.1 164.5,295.5 166.2,293.0 168.0,290.4 169.7,287.9 171.5,285.4 173.3,282.9 175.1,280.4 177.0,277.9 178.8,275.4 180.7,273.0 182.6,270.5 184.5,268.1 186.4,265.7 188.4,263.2 190.3,260.8 192.3,258.4 194.3,256.0 196.4,253.6 198.4,251.2 200.5,248.8 202.5,246.4 204.7,244.0 206.8,241.6 208.9,239.2 211.1,236.8 213.3,234.4 215.5,232.0 217.7,229.5 220.0,227.1 222.3,224.7 224.6,222.2 227.0,219.8 229.3,217.3 231.8,214.9 234.2,212.4 236.7,209.9 239.2,207.4 241.7,204.9 244.3,202.4 246.9,199.8 249.6,197.3 252.3,194.7 255.0,192.1 257.8,189.6 260.7,187.0 263.6,184.4 266.5,181.8 269.5,179.2 272.6,176.7 275.7,174.1 278.9,171.5 282.1,168.9 285.4,166.4 288.8,163.8 292.2,161.3 295.7,158.8 299.2,156.3 302.8,153.8 306.5,151.3 310.3,148.9 314.1,146.5 318.0,144.1 322.0,141.7 326.0,139.4 330.1,137.1 334.3,134.9 338.5,132.7 342.8,130.6 347.2,128.6 351.7,126.6 356.2,124.7 360.8,122.9 365.4,121.2 370.1,119.5 374.9,118.0 379.7,116.5 384.6,115.2 389.5,114.0 394.5,112.8 399.5,111.8 404.5,111.0 409.6,110.2 414.7,109.6 419.9,109.1 425.0,108.8 430.2,108.6 435.4,108.6 440.5,108.7 445.7,109.0 450.9,109.4 456.0,110.0 461.2,110.7 466.3,111.6 471.3,112.7 476.4,114.0 481.3,115.4" fill="none" stroke="url(#fadeD)" stroke-width="1.2"/>
<polyline points="161.2,306.0 161.7,305.1 163.1,302.9 164.5,300.7 166.0,298.5 167.4,296.4 168.9,294.2 170.4,292.1 171.9,290.0 173.4,287.9 174.9,285.8 176.5,283.7 178.0,281.6 179.6,279.6 181.1,277.5 182.7,275.5 184.3,273.4 186.0,271.4 187.6,269.3 189.2,267.3 190.9,265.3 192.5,263.3 194.2,261.2 195.9,259.2 197.6,257.2 199.3,255.2 201.1,253.2 202.8,251.2 204.6,249.2 206.3,247.2 208.1,245.2 209.9,243.1 211.7,241.1 213.5,239.1 215.4,237.1 217.2,235.0 219.1,233.0 221.0,231.0 222.9,228.9 224.9,226.9 226.8,224.8 228.8,222.7 230.8,220.6 232.8,218.5 234.8,216.4 236.9,214.3 238.9,212.2 241.0,210.1 243.2,207.9 245.3,205.8 247.5,203.6 249.7,201.5 252.0,199.3 254.2,197.1 256.5,194.9 258.9,192.7 261.3,190.5 263.7,188.2 266.1,186.0 268.6,183.8 271.2,181.6 273.7,179.3 276.4,177.1 279.0,174.9 281.7,172.7 284.5,170.5 287.3,168.2 290.1,166.0 293.0,163.9 295.9,161.7 298.9,159.5 302.0,157.4 305.0,155.2 308.2,153.1 311.4,151.0 314.6,148.9 317.9,146.8 321.2,144.8 324.6,142.8 328.1,140.8 331.6,138.9 335.1,136.9 338.7,135.1 342.4,133.2 346.1,131.4 349.9,129.7 353.7,128.0 357.5,126.4 361.4,124.8 365.4,123.3 369.4,121.9 373.4,120.5 377.5,119.2 381.6,117.9 385.8,116.8 390.0,115.7 394.2,114.7 398.5,113.8 402.8,113.0 407.1,112.2" fill="none" stroke="url(#fadeL)" stroke-width="1.8"/>
<polyline points="142.8,297.7 144.1,295.2 145.5,292.7 147.0,290.2 148.4,287.8 149.8,285.3 151.3,282.9 152.8,280.5 154.3,278.0 155.9,275.6 157.4,273.2 159.0,270.8 160.6,268.4 162.2,266.0 163.8,263.7 165.4,261.3 167.1,259.0 168.8,256.6 170.5,254.3 172.2,251.9 173.9,249.6 175.7,247.3 177.5,245.0 179.3,242.6 181.1,240.3 183.0,238.0 184.8,235.7 186.7,233.5 188.6,231.2 190.6,228.9 192.5,226.6 194.5,224.4 196.5,222.1 198.5,219.9 200.6,217.6 202.7,215.4 204.8,213.1 206.9,210.9 209.1,208.7 211.2,206.4 213.4,204.2 215.7,202.0 217.9,199.8 220.2,197.6 222.5,195.4 224.9,193.2 227.3,191.0 229.7,188.8 232.1,186.7 234.6,184.5 237.0,182.3 239.6,180.2 242.1,178.0 244.7,175.9 247.4,173.7 250.0,171.6 252.7,169.5 255.4,167.4 258.2,165.3 261.0,163.2 263.8,161.1 266.7,159.0 269.6,156.9 272.6,154.9 275.6,152.8 278.6,150.8 281.6,148.7 284.8,146.7 287.9,144.7 291.1,142.7 294.3,140.7 297.6,138.8 300.9,136.8 304.3,134.9 307.7,133.0 311.1,131.1 314.6,129.2 318.2,127.3 321.8,125.5 325.4,123.7 329.1,122.0 332.8,120.3 336.6,118.6 340.4,117.0 344.3,115.4 348.2,113.8 352.1,112.4 356.1,111.0 360.1,109.6 364.2,108.4 368.3,107.2 372.5,106.0 376.6,105.0 380.8,104.0 385.1,103.1 389.3,102.3 393.6,101.6 398.0,101.0 402.3,100.5 406.6,100.1 411.0,99.8 415.4,99.6 419.7,99.5 424.1,99.5 428.5,99.6 432.9,99.9 437.2,100.2 441.6,100.7 445.9,101.3 450.2,102.0 454.5,102.9 458.8,103.9 463.0,105.0 467.2,106.2 471.4,107.6 475.5,109.1 479.5,110.7 483.5,112.5 487.4,114.4 491.3,116.4" fill="none" stroke="url(#fadeD)" stroke-width="1.6"/>
<polyline points="271.8,183.0 275.6,179.7 279.5,176.3 283.5,173.0 287.6,169.7 291.8,166.5 296.2,163.2 300.6,160.0 305.1,156.8 309.7,153.6 314.5,150.5 319.4,147.4 324.3,144.4 329.4,141.4 334.6,138.5 340.0,135.7 345.4,133.0 351.0,130.4 356.6,127.9 362.4,125.6 368.3,123.4 374.3,121.3 380.4,119.4 386.5,117.6 392.7,116.0 399.1,114.6 405.4,113.4 411.9,112.4 418.4,111.6 424.9,111.1 431.4,110.7 438.0,110.6 444.6,110.8 451.2,111.1 457.7,111.8 464.3,112.7 470.8,113.8 477.2,115.2 483.6,116.9 489.8,118.9" fill="none" stroke="#4c4d4d" stroke-opacity="0.8" stroke-width="1.1"/>
<ellipse cx="168.4" cy="287.2" rx="4.4" ry="3.4" fill="#7a7b7b" transform="rotate(-35 168.4 287.2)"/>
<ellipse cx="168.9" cy="288.0" rx="3.2" ry="2.0" fill="#8f9090" transform="rotate(-35 168.9 288.0)"/>
<ellipse cx="222.6" cy="220.0" rx="3.9" ry="3.0" fill="#7a7b7b" transform="rotate(-35 222.6 220.0)"/>
<ellipse cx="223.1" cy="220.8" rx="2.8" ry="1.8" fill="#8f9090" transform="rotate(-35 223.1 220.8)"/>
<ellipse cx="283.2" cy="165.6" rx="3.0" ry="2.3" fill="#7a7b7b" transform="rotate(-35 283.2 165.6)"/>
<ellipse cx="283.7" cy="166.4" rx="2.2" ry="1.4" fill="#8f9090" transform="rotate(-35 283.7 166.4)"/>
<ellipse cx="346.5" cy="128.7" rx="1.9" ry="1.4" fill="#7a7b7b" transform="rotate(-35 346.5 128.7)"/>
<ellipse cx="347.0" cy="129.5" rx="1.4" ry="0.8" fill="#8f9090" transform="rotate(-35 347.0 129.5)"/>
<circle cx="314.2" cy="145.3" r="1" fill="#666"/>
<circle cx="539.5" cy="266.0" r="1.8" fill="#5e5f5f"/>
<circle cx="538.0" cy="331.5" r="1.8" fill="#5e5f5f"/>
<circle cx="524.0" cy="404.5" r="1.8" fill="#5e5f5f"/>
<circle cx="494.4" cy="477.4" r="1.8" fill="#5e5f5f"/>
<circle cx="493.5" cy="171.0" r="0.9" fill="#ddd"/>
<circle cx="518.0" cy="206.0" r="0.9" fill="#ddd"/>
<polyline points="142.8,297.7 162.9,306.8 175.8,315.6" fill="none" stroke="#6a6b6b" stroke-width="1.0"/>
</g>
<line x1="416.2" y1="57.0" x2="408.7" y2="110.3" stroke="#a2a2a2" stroke-width="1.10" />
<line x1="408.9" y1="106.0" x2="408.6" y2="110.5" stroke="#d0d0d0" stroke-width="1.00" />
<line x1="550.8" y1="26.5" x2="489.4" y2="117.5" stroke="#a2a2a2" stroke-width="1.10" />
<line x1="403.6" y1="145.5" x2="398.9" y2="175.5" stroke="#a2a2a2" stroke-width="1.10" />
<line x1="398.6" y1="176.5" x2="361.9" y2="421.0" stroke="#848585" stroke-width="3.20" /><line x1="398.6" y1="176.5" x2="361.9" y2="421.0" stroke="#cdcece" stroke-width="1.28" />
<line x1="361.8" y1="421.5" x2="359.2" y2="440.5" stroke="#aaa" stroke-width="1.00" />
<rect x="358.6" y="420.0" width="6.6" height="2.4" rx="1" fill="#f2f2f2" stroke="#8a8b8b" stroke-width="0.7" transform="rotate(8.5 361.9 421.2)"/>
<rect x="370.6" y="340.7" width="6.8" height="2.6" rx="1" fill="#f2f2f2" stroke="#8a8b8b" stroke-width="0.7" transform="rotate(8.5 374.0 342.0)"/>
<line x1="463.3" y1="152.4" x2="440.3" y2="186.2" stroke="#a2a2a2" stroke-width="1.10" />
<line x1="439.4" y1="187.0" x2="302.8" y2="385.0" stroke="#848585" stroke-width="3.20" /><line x1="439.4" y1="187.0" x2="302.8" y2="385.0" stroke="#cdcece" stroke-width="1.28" />
<line x1="302.5" y1="385.5" x2="283.8" y2="414.5" stroke="#aaa" stroke-width="1.00" />
<rect x="299.5" y="384.0" width="6.6" height="2.4" rx="1" fill="#f2f2f2" stroke="#8a8b8b" stroke-width="0.7" transform="rotate(34.6 302.8 385.2)"/>
<rect x="343.8" y="318.1" width="6.8" height="2.6" rx="1" fill="#f2f2f2" stroke="#8a8b8b" stroke-width="0.7" transform="rotate(34.6 347.2 319.4)"/>
<g transform="translate(418.2,44.3) rotate(5)"><rect x="-3.9" y="-3.2" width="7.8" height="6.4" rx="1.5" fill="#636464"/><rect x="-2.7" y="3" width="5.4" height="9.4" fill="#6d6e6e"/><rect x="-1" y="-2" width="2" height="14" fill="#9a9b9b"/></g>
<g transform="translate(558.6,13.4) rotate(30)"><rect x="-3.6" y="-3.4" width="7.2" height="6.8" rx="1.5" fill="#747575"/><rect x="-2.5" y="3.2" width="5" height="10" fill="#7b7c7c"/><rect x="-1" y="-2" width="2" height="15" fill="#aaabab"/></g>
<line x1="176.4" y1="372.9" x2="540.4" y2="578.8" stroke="#8a8a8a" stroke-width="0.90" />
<path d="M106.2,320.2 L181.3,364.2 A6.20,10.00 29.5 0 1 171.4,381.6 L95.1,339.9 A7.01,11.30 29.5 0 1 106.2,320.2 Z" fill="url(#cg1)"/>
<path d="M159.6,351.8 L181.3,364.1 A6.26,10.10 29.5 0 1 171.4,381.7 L149.6,369.4 A6.26,10.10 29.5 0 1 159.6,351.8 Z" fill="#000" opacity="0.06"/>
<path d="M86.2,310.8 L100.2,318.7 A5.95,9.60 29.5 0 1 90.7,335.4 L76.8,327.6 A5.95,9.60 29.5 0 1 86.2,310.8 Z" fill="url(#cg2)" />
<ellipse cx="85.4" cy="321.4" rx="5.95" ry="9.60" transform="rotate(29.5 85.4 321.4)" fill="none" stroke="#707171" stroke-width="0.50" />
<path d="M102.0,314.5 L107.6,317.7 A8.80,14.20 29.5 0 1 93.7,342.4 L88.0,339.2 A8.80,14.20 29.5 0 1 102.0,314.5 Z" fill="url(#cg3)" />
<ellipse cx="100.6" cy="330.0" rx="8.80" ry="14.20" transform="rotate(29.5 100.6 330.0)" fill="#939494" stroke="#747575" stroke-width="0.60" />
<path d="M106.2,320.2 L113.2,324.1 A7.01,11.30 29.5 0 1 102.0,343.8 L95.1,339.9 A7.01,11.30 29.5 0 1 106.2,320.2 Z" fill="url(#cg4)" />
<ellipse cx="176.4" cy="372.9" rx="6.20" ry="10.00" transform="rotate(29.5 176.4 372.9)" fill="#8f9090" stroke="#707171" stroke-width="0.80" />
<ellipse cx="176.4" cy="372.9" rx="4.71" ry="7.60" transform="rotate(29.5 176.4 372.9)" fill="#b3b4b4" stroke="#7d7e7e" stroke-width="0.60" />
<ellipse cx="175.5" cy="372.4" rx="3.91" ry="6.30" transform="rotate(29.5 175.5 372.4)" fill="#9a9b9b" stroke="none" stroke-width="1.00" />
<ellipse cx="201.6" cy="387.2" rx="12.40" ry="20.00" transform="rotate(29.5 201.6 387.2)" fill="#5c5d5d" stroke="none" stroke-width="1.00" />
<ellipse cx="203.2" cy="388.0" rx="12.40" ry="20.00" transform="rotate(29.5 203.2 388.0)" fill="url(#cg5)" stroke="none" stroke-width="1.00" />
<ellipse cx="203.2" cy="388.0" rx="6.94" ry="11.20" transform="rotate(29.5 203.2 388.0)" fill="#b4b5b5" stroke="none" stroke-width="1.00" />
<ellipse cx="201.8" cy="387.3" rx="6.57" ry="10.60" transform="rotate(29.5 201.8 387.3)" fill="#fff" stroke="none" stroke-width="1.00" />
<path d="M242.3,391.5 L249.3,395.4 A10.11,16.30 29.5 0 1 233.2,423.8 L226.3,419.8 A10.11,16.30 29.5 0 1 242.3,391.5 Z" fill="url(#cg7)" />
<ellipse cx="241.2" cy="409.6" rx="10.11" ry="16.30" transform="rotate(29.5 241.2 409.6)" fill="#8f9090" stroke="#686969" stroke-width="0.70" />
<ellipse cx="241.2" cy="409.6" rx="6.00" ry="9.60" transform="rotate(29.5 241.2 409.6)" fill="#5f6060" stroke="none" stroke-width="1.00" />
<ellipse cx="240.2" cy="409.0" rx="5.40" ry="8.80" transform="rotate(29.5 240.2 409.0)" fill="#8a8b8b" stroke="none" stroke-width="1.00" />
<ellipse cx="239.2" cy="408.4" rx="4.50" ry="7.80" transform="rotate(29.5 239.2 408.4)" fill="#fff" stroke="none" stroke-width="1.00" />
<circle cx="241.9" cy="393.3" r="2.0" fill="#bebfbf" stroke="#6a6b6b" stroke-width="0.4"/>
<circle cx="237.4" cy="394.2" r="2.0" fill="#bebfbf" stroke="#6a6b6b" stroke-width="0.4"/>
<circle cx="232.7" cy="397.5" r="2.0" fill="#bebfbf" stroke="#6a6b6b" stroke-width="0.4"/>
<circle cx="228.8" cy="402.5" r="2.0" fill="#bebfbf" stroke="#6a6b6b" stroke-width="0.4"/>
<circle cx="226.4" cy="408.5" r="2.0" fill="#bebfbf" stroke="#6a6b6b" stroke-width="0.4"/>
<circle cx="226.0" cy="414.2" r="2.0" fill="#bebfbf" stroke="#6a6b6b" stroke-width="0.4"/>
<circle cx="227.7" cy="418.5" r="2.0" fill="#bebfbf" stroke="#6a6b6b" stroke-width="0.4"/>
<polygon points="282.9,407.9 288.7,407.9 293.2,406.0 298.4,405.1 303.5,407.3 306.1,411.8 305.5,416.3 310.6,416.9 315.2,420.2 317.7,425.3 315.8,429.8 306.8,430.1 330.0,440.2 330.0,472.4 288.7,467.3 286.8,470.5 281.6,471.1 276.5,467.5 275.2,462.1 270.6,457.2 264.2,455.6 260.3,451.8 257.1,445.3 256.5,437.6 258.4,429.8 262.9,422.1 269.4,414.4 275.8,409.8" fill="url(#hubl)" />
<polygon points="282.9,407.9 275.8,409.8 269.4,414.4 262.9,422.1 258.4,429.8 256.5,437.6 257.1,445.3 260.3,451.8 264.2,455.6 269.4,453.1 267.0,446.0 267.0,438.2 269.6,430.9 273.5,423.9 278.6,417.6 284.2,412.8" fill="#b5b6b6" />
<line x1="280.8" y1="408.5" x2="284.5" y2="410.5" stroke="#7f8080" stroke-width="0.70" />
<line x1="278.7" y1="409.0" x2="282.4" y2="411.1" stroke="#7f8080" stroke-width="0.70" />
<line x1="276.6" y1="409.6" x2="280.3" y2="411.7" stroke="#7f8080" stroke-width="0.70" />
<line x1="274.7" y1="410.6" x2="278.4" y2="412.6" stroke="#7f8080" stroke-width="0.70" />
<line x1="273.0" y1="411.8" x2="276.6" y2="413.9" stroke="#7f8080" stroke-width="0.70" />
<line x1="271.2" y1="413.1" x2="274.9" y2="415.1" stroke="#7f8080" stroke-width="0.70" />
<line x1="269.4" y1="414.3" x2="273.1" y2="416.4" stroke="#7f8080" stroke-width="0.70" />
<line x1="268.0" y1="415.9" x2="271.7" y2="418.0" stroke="#7f8080" stroke-width="0.70" />
<line x1="266.6" y1="417.6" x2="270.3" y2="419.7" stroke="#7f8080" stroke-width="0.70" />
<line x1="265.3" y1="419.3" x2="268.9" y2="421.3" stroke="#7f8080" stroke-width="0.70" />
<line x1="263.9" y1="420.9" x2="267.5" y2="423.0" stroke="#7f8080" stroke-width="0.70" />
<line x1="262.6" y1="422.6" x2="266.2" y2="424.7" stroke="#7f8080" stroke-width="0.70" />
<line x1="261.5" y1="424.5" x2="265.1" y2="426.6" stroke="#7f8080" stroke-width="0.70" />
<line x1="260.4" y1="426.4" x2="264.1" y2="428.5" stroke="#7f8080" stroke-width="0.70" />
<line x1="259.3" y1="428.3" x2="263.0" y2="430.3" stroke="#7f8080" stroke-width="0.70" />
<line x1="258.3" y1="430.2" x2="262.0" y2="432.2" stroke="#7f8080" stroke-width="0.70" />
<line x1="257.8" y1="432.3" x2="261.4" y2="434.3" stroke="#7f8080" stroke-width="0.70" />
<line x1="257.3" y1="434.4" x2="260.9" y2="436.4" stroke="#7f8080" stroke-width="0.70" />
<line x1="256.7" y1="436.4" x2="260.4" y2="438.5" stroke="#7f8080" stroke-width="0.70" />
<line x1="256.5" y1="438.6" x2="260.2" y2="440.6" stroke="#7f8080" stroke-width="0.70" />
<line x1="256.7" y1="440.7" x2="260.4" y2="442.8" stroke="#7f8080" stroke-width="0.70" />
<line x1="256.9" y1="442.9" x2="260.5" y2="445.0" stroke="#7f8080" stroke-width="0.70" />
<line x1="257.1" y1="445.0" x2="260.7" y2="447.1" stroke="#7f8080" stroke-width="0.70" />
<line x1="257.9" y1="447.0" x2="261.6" y2="449.1" stroke="#7f8080" stroke-width="0.70" />
<line x1="258.9" y1="448.9" x2="262.6" y2="451.0" stroke="#7f8080" stroke-width="0.70" />
<line x1="259.9" y1="450.9" x2="263.5" y2="452.9" stroke="#7f8080" stroke-width="0.70" />
<line x1="261.1" y1="452.6" x2="264.8" y2="454.7" stroke="#7f8080" stroke-width="0.70" />
<line x1="262.7" y1="454.1" x2="266.3" y2="456.2" stroke="#7f8080" stroke-width="0.70" />
<polyline points="282.9,407.9 275.8,409.8 269.4,414.4 262.9,422.1 258.4,429.8 256.5,437.6 257.1,445.3 260.3,451.8 264.2,455.6" fill="none" stroke="#8a8b8b" stroke-width="0.8"/>
<path d="M305.6,422.7 L352.6,449.3 A12.59,20.30 29.5 0 1 332.6,484.6 L285.6,458.0 A12.59,20.30 29.5 0 1 305.6,422.7 Z" fill="url(#hubb)" />
<polygon points="294.5,416.7 292.6,418.9 287.4,426.0 283.8,432.4 281.4,439.5 280.3,446.6 280.7,452.4 281.6,456.9 283.8,461.5 287.4,465.7 294.1,466.2 291.8,462.7 289.7,458.2 288.6,452.4 288.3,446.6 289.2,439.5 291.5,432.4 295.4,426.0 300.6,418.9 301.9,417.2" fill="#afb0b0" />
<polyline points="294.5,416.7 292.6,418.9 287.4,426.0 283.8,432.4 281.4,439.5 280.3,446.6 280.7,452.4 281.6,456.9 283.8,461.5 287.4,465.7" fill="none" stroke="#8c8d8d" stroke-width="0.7"/>
<ellipse cx="299.7" cy="412.0" rx="6.2" ry="6.6" transform="rotate(30.0 299.7 412.0)" fill="#999a9a" stroke="#6a6b6b" stroke-width="0.7"/><ellipse cx="299.7" cy="412.0" rx="2.0" ry="2.1" transform="rotate(30.0 299.7 412.0)" fill="#a2a3a3" stroke="#666767" stroke-width="0.5"/>
<ellipse cx="311.9" cy="423.6" rx="5.2" ry="6.2" transform="rotate(30.0 311.9 423.6)" fill="#929393" stroke="#6a6b6b" stroke-width="0.7"/><ellipse cx="311.9" cy="423.6" rx="1.7" ry="2.0" transform="rotate(30.0 311.9 423.6)" fill="#a2a3a3" stroke="#666767" stroke-width="0.5"/>
<ellipse cx="282.0" cy="464.7" rx="6.4" ry="6.0" transform="rotate(30.0 282.0 464.7)" fill="#999a9a" stroke="#6a6b6b" stroke-width="0.7"/><ellipse cx="282.0" cy="464.7" rx="2.0" ry="1.9" transform="rotate(30.0 282.0 464.7)" fill="#a2a3a3" stroke="#666767" stroke-width="0.5"/>
<ellipse cx="269.4" cy="453.7" rx="4.6" ry="3.6" transform="rotate(30.0 269.4 453.7)" fill="#929393" stroke="#6a6b6b" stroke-width="0.7"/><ellipse cx="269.4" cy="453.7" rx="1.5" ry="1.2" transform="rotate(30.0 269.4 453.7)" fill="#a2a3a3" stroke="#666767" stroke-width="0.5"/>
<polygon points="270.6,425.3 276.5,421.5 282.3,422.7 285.5,426.6 282.9,432.4 277.7,433.7 271.9,431.1" fill="#b4b5b5" />
<polygon points="273.0,426.6 277.1,424.0 281.0,425.3 282.3,427.9 280.3,431.1 276.5,431.8 273.5,429.8" fill="#6f7070" />
<polygon points="275.8,426.0 279.4,425.5 281.0,428.0 278.6,430.1 276.3,429.6" fill="#a0a1a1" />
<polygon points="335.3,446.8 342.4,444.2 349.5,441.0 354.7,438.4 360.5,437.7 365.0,441.0 366.9,446.1 365.6,451.3 368.2,455.8 372.7,457.7 375.3,461.6 374.0,466.1 370.2,468.1 369.5,475.2 366.9,482.9 363.1,486.8 361.8,490.9 356.6,493.5 350.2,497.1 343.7,500.3 338.5,501.7 332.7,500.5 327.6,497.1 325.6,491.9 326.3,488.1 324.4,484.2 323.1,479.0 320.5,477.7 324.4,462.3" fill="url(#hubr)" />
<ellipse cx="360.2" cy="445.2" rx="6.0" ry="6.4" transform="rotate(30.0 360.2 445.2)" fill="#999a9a" stroke="#6a6b6b" stroke-width="0.7"/><ellipse cx="360.2" cy="445.2" rx="1.9" ry="2.0" transform="rotate(30.0 360.2 445.2)" fill="#a2a3a3" stroke="#666767" stroke-width="0.5"/>
<ellipse cx="371.1" cy="462.5" rx="4.6" ry="5.6" transform="rotate(30.0 371.1 462.5)" fill="#929393" stroke="#6a6b6b" stroke-width="0.7"/><ellipse cx="371.1" cy="462.5" rx="1.5" ry="1.8" transform="rotate(30.0 371.1 462.5)" fill="#a2a3a3" stroke="#666767" stroke-width="0.5"/>
<ellipse cx="331.8" cy="493.5" rx="6.2" ry="5.8" transform="rotate(30.0 331.8 493.5)" fill="#999a9a" stroke="#6a6b6b" stroke-width="0.7"/><ellipse cx="331.8" cy="493.5" rx="2.0" ry="1.9" transform="rotate(30.0 331.8 493.5)" fill="#a2a3a3" stroke="#666767" stroke-width="0.5"/>
<ellipse cx="353.0" cy="470.0" rx="15.50" ry="25.50" transform="rotate(29.5 353.0 470.0)" fill="#878888" stroke="#6e6f6f" stroke-width="0.80" />
<ellipse cx="352.3" cy="469.6" rx="13.60" ry="22.50" transform="rotate(29.5 352.3 469.6)" fill="#a9aaaa" stroke="#808181" stroke-width="0.60" />
<ellipse cx="351.1" cy="468.9" rx="11.60" ry="19.50" transform="rotate(29.5 351.1 468.9)" fill="#8e8f8f" stroke="#777878" stroke-width="0.60" />
<ellipse cx="349.9" cy="468.2" rx="9.60" ry="16.50" transform="rotate(29.5 349.9 468.2)" fill="#a6a7a7" stroke="#7d7e7e" stroke-width="0.50" />
<ellipse cx="348.6" cy="467.5" rx="7.40" ry="13.00" transform="rotate(29.5 348.6 467.5)" fill="#8a8b8b" stroke="#777878" stroke-width="0.50" />
<ellipse cx="347.8" cy="467.0" rx="5.60" ry="10.00" transform="rotate(29.5 347.8 467.0)" fill="#9c9d9d" stroke="none" stroke-width="1.00" />
<polygon points="331.5,450.6 335.3,447.4 340.5,449.4 343.7,453.2 341.8,457.7 337.3,458.4 332.7,455.8" fill="#b4b5b5" />
<polygon points="333.6,451.7 336.6,450.0 340.1,451.7 341.4,454.5 338.8,456.5 335.5,455.8" fill="#6f7070" />
<polygon points="336.0,452.2 338.8,452.2 339.8,454.5 337.5,455.5 336.0,454.5" fill="#a0a1a1" />
<polygon points="324.4,473.2 328.9,472.6 332.7,475.2 334.0,479.7 331.5,482.3 326.9,481.0 324.4,477.7" fill="#aaabab" />
<polygon points="326.3,474.9 329.5,474.5 331.8,476.7 331.8,479.5 329.3,480.3 326.7,478.4" fill="#727373" />
<path d="M398.6,479.9 L405.5,483.8 A10.11,16.30 29.5 0 1 389.5,512.2 L382.5,508.2 A10.11,16.30 29.5 0 1 398.6,479.9 Z" fill="url(#cg8)" />
<ellipse cx="397.5" cy="498.0" rx="10.11" ry="16.30" transform="rotate(29.5 397.5 498.0)" fill="#8a8b8b" stroke="#686969" stroke-width="0.70" />
<ellipse cx="397.1" cy="497.8" rx="6.94" ry="11.20" transform="rotate(29.5 397.1 497.8)" fill="#5c5d5d" stroke="none" stroke-width="1.00" />
<ellipse cx="395.8" cy="497.0" rx="6.32" ry="10.20" transform="rotate(29.5 395.8 497.0)" fill="#8c8d8d" stroke="none" stroke-width="1.00" />
<ellipse cx="393.6" cy="495.8" rx="5.00" ry="8.60" transform="rotate(29.5 393.6 495.8)" fill="#fff" stroke="none" stroke-width="1.00" />
<circle cx="406.3" cy="488.3" r="1.9" fill="#c3c4c4" stroke="#6a6b6b" stroke-width="0.4"/>
<circle cx="407.5" cy="492.7" r="1.9" fill="#c3c4c4" stroke="#6a6b6b" stroke-width="0.4"/>
<circle cx="406.6" cy="498.2" r="1.9" fill="#c3c4c4" stroke="#6a6b6b" stroke-width="0.4"/>
<circle cx="404.0" cy="503.6" r="1.9" fill="#c3c4c4" stroke="#6a6b6b" stroke-width="0.4"/>
<circle cx="400.1" cy="507.9" r="1.9" fill="#c3c4c4" stroke="#6a6b6b" stroke-width="0.4"/>
<circle cx="395.6" cy="510.3" r="1.9" fill="#c3c4c4" stroke="#6a6b6b" stroke-width="0.4"/>
<circle cx="391.6" cy="510.2" r="1.9" fill="#c3c4c4" stroke="#6a6b6b" stroke-width="0.4"/>
<circle cx="388.7" cy="507.7" r="1.9" fill="#c3c4c4" stroke="#6a6b6b" stroke-width="0.4"/>
<ellipse cx="424.4" cy="513.2" rx="12.40" ry="20.00" transform="rotate(29.5 424.4 513.2)" fill="#5c5d5d" stroke="none" stroke-width="1.00" />
<ellipse cx="426.0" cy="514.1" rx="12.40" ry="20.00" transform="rotate(29.5 426.0 514.1)" fill="url(#cg6)" stroke="none" stroke-width="1.00" />
<ellipse cx="426.0" cy="514.1" rx="6.94" ry="11.20" transform="rotate(29.5 426.0 514.1)" fill="#b4b5b5" stroke="none" stroke-width="1.00" />
<ellipse cx="424.6" cy="513.3" rx="6.57" ry="10.60" transform="rotate(29.5 424.6 513.3)" fill="#fff" stroke="none" stroke-width="1.00" />
<path d="M468.1,525.8 L475.5,530.0 A7.69,12.40 29.5 0 1 463.3,551.6 L455.9,547.4 A7.69,12.40 29.5 0 1 468.1,525.8 Z" fill="url(#cg9)" />
<ellipse cx="462.0" cy="536.6" rx="7.69" ry="12.40" transform="rotate(29.5 462.0 536.6)" fill="none" stroke="#737474" stroke-width="0.70" />
<ellipse cx="463.9" cy="537.7" rx="7.69" ry="12.40" transform="rotate(29.5 463.9 537.7)" fill="none" stroke="#868787" stroke-width="0.50" />
<ellipse cx="469.4" cy="540.8" rx="7.69" ry="12.40" transform="rotate(29.5 469.4 540.8)" fill="#939494" stroke="#707171" stroke-width="0.60" />
<ellipse cx="469.4" cy="540.8" rx="6.57" ry="10.60" transform="rotate(29.5 469.4 540.8)" fill="url(#cg10)" stroke="none" stroke-width="1.00" />
<ellipse cx="467.5" cy="539.7" rx="5.00" ry="9.40" transform="rotate(29.5 467.5 539.7)" fill="#959696" stroke="none" stroke-width="1.00" />
<ellipse cx="464.9" cy="538.3" rx="1.50" ry="6.60" transform="rotate(29.5 464.9 538.3)" fill="#f4f4f4" stroke="none" stroke-width="1.00" />
<path d="M497.2,534.1 L499.8,535.6 A11.28,18.20 29.5 0 1 481.9,567.3 L479.3,565.8 A11.28,18.20 29.5 0 1 497.2,534.1 Z" fill="url(#cg11)" />
<ellipse cx="490.9" cy="551.4" rx="11.28" ry="18.20" transform="rotate(29.5 490.9 551.4)" fill="url(#cg12)" stroke="#747575" stroke-width="0.60" />
<path d="M498.1,538.7 L507.2,543.9 A9.05,14.60 29.5 0 1 492.8,569.3 L483.7,564.1 A9.05,14.60 29.5 0 1 498.1,538.7 Z" fill="url(#cg13)" />
<ellipse cx="500.0" cy="556.6" rx="9.05" ry="14.60" transform="rotate(29.5 500.0 556.6)" fill="#909191" stroke="#6d6e6e" stroke-width="0.70" />
<ellipse cx="500.0" cy="556.6" rx="7.94" ry="12.80" transform="rotate(29.5 500.0 556.6)" fill="#a9aaaa" stroke="none" stroke-width="1.00" />
<ellipse cx="498.8" cy="555.9" rx="7.44" ry="12.00" transform="rotate(29.5 498.8 555.9)" fill="#8a8b8b" stroke="none" stroke-width="1.00" />
<ellipse cx="496.0" cy="554.3" rx="5.00" ry="10.00" transform="rotate(29.5 496.0 554.3)" fill="#f6f6f6" stroke="none" stroke-width="1.00" />
<path d="M523.0,553.3 L525.8,554.9 A8.31,13.40 29.5 0 1 512.6,578.2 L509.8,576.6 A8.31,13.40 29.5 0 1 523.0,553.3 Z" fill="url(#cg14)" />
<path d="M522.5,554.2 L532.3,559.7 A7.69,12.40 29.5 0 1 520.1,581.2 L510.3,575.7 A7.69,12.40 29.5 0 1 522.5,554.2 Z" fill="url(#cg15)" />
<ellipse cx="516.4" cy="564.9" rx="8.31" ry="13.40" transform="rotate(29.5 516.4 564.9)" fill="none" stroke="#737474" stroke-width="0.70" />
<ellipse cx="519.2" cy="566.5" rx="8.31" ry="13.40" transform="rotate(29.5 519.2 566.5)" fill="none" stroke="#808181" stroke-width="0.50" />
<ellipse cx="526.2" cy="570.5" rx="7.69" ry="12.40" transform="rotate(29.5 526.2 570.5)" fill="#8d8e8e" stroke="#6d6e6e" stroke-width="0.70" />
<ellipse cx="526.2" cy="570.5" rx="6.57" ry="10.60" transform="rotate(29.5 526.2 570.5)" fill="#b2b3b3" stroke="none" stroke-width="1.00" />
<ellipse cx="526.2" cy="570.5" rx="4.96" ry="8.00" transform="rotate(29.5 526.2 570.5)" fill="#8f9090" stroke="#7b7c7c" stroke-width="0.50" />
<ellipse cx="525.1" cy="569.9" rx="4.22" ry="6.80" transform="rotate(29.5 525.1 569.9)" fill="#a9aaaa" stroke="none" stroke-width="1.00" />
<line x1="285.5" y1="412.0" x2="279.6" y2="422.4" stroke="#c4c5c5" stroke-width="1.00" />
<line x1="300.0" y1="468.8" x2="369.0" y2="468.8" stroke="#fff" stroke-width="0.80" opacity="0.7"/>
<line x1="494.5" y1="468.8" x2="536.0" y2="468.8" stroke="#fff" stroke-width="0.80" opacity="0.8"/>
<line x1="303.8" y1="18.0" x2="303.8" y2="277.2" stroke="#fff" stroke-width="2.60" opacity="0.75"/>
<line x1="303.8" y1="17.4" x2="303.8" y2="277.6" stroke="#626262" stroke-width="1.40" />
<line x1="303.8" y1="18.0" x2="549.0" y2="18.0" stroke="#626262" stroke-width="1.40" />
<line x1="303.8" y1="49.4" x2="412.8" y2="49.4" stroke="#626262" stroke-width="1.40" />
<line x1="289.5" y1="86.8" x2="303.8" y2="86.8" stroke="#626262" stroke-width="1.30" />
<line x1="303.8" y1="207.4" x2="388.9" y2="207.4" stroke="#5c5c5c" stroke-width="1.30" />
<line x1="303.8" y1="277.2" x2="371.5" y2="277.2" stroke="#5c5c5c" stroke-width="1.30" />
<line x1="190.0" y1="205.0" x2="200.4" y2="218.6" stroke="#555" stroke-width="1.30" />
<line x1="34.2" y1="410.2" x2="391.0" y2="612.1" stroke="#414141" stroke-width="1.40" />
<line x1="34.2" y1="410.2" x2="126.6" y2="358.3" stroke="#414141" stroke-width="1.40" />
<line x1="107.0" y1="451.4" x2="189.4" y2="405.3" stroke="#414141" stroke-width="1.40" />
<line x1="139.0" y1="469.5" x2="223.5" y2="420.2" stroke="#414141" stroke-width="1.40" />
<line x1="211.8" y1="510.7" x2="201.0" y2="517.9" stroke="#414141" stroke-width="1.40" />
<line x1="300.3" y1="560.8" x2="383.9" y2="511.4" stroke="#414141" stroke-width="1.40" />
<line x1="328.8" y1="576.9" x2="412.2" y2="531.0" stroke="#414141" stroke-width="1.40" />
<line x1="391.0" y1="612.1" x2="440.2" y2="583.6" stroke="#414141" stroke-width="1.40" />
<line x1="419.3" y1="570.0" x2="472.9" y2="601.0" stroke="#414141" stroke-width="1.40" />
<line x1="419.3" y1="570.0" x2="455.5" y2="548.9" stroke="#414141" stroke-width="1.40" />
<line x1="449.7" y1="587.6" x2="479.7" y2="569.6" stroke="#414141" stroke-width="1.40" />
<line x1="472.9" y1="601.0" x2="510.3" y2="580.3" stroke="#414141" stroke-width="1.40" />
<g filter="url(#noop)">
<circle cx="328.8" cy="18.0" r="6.9" fill="#fff"/>
<ellipse cx="330.8" cy="18.0" rx="11.0" ry="6.8" fill="#8fc8e6" fill-opacity="0.45" stroke="#62b6da" stroke-width="1.2"/>
<circle cx="328.8" cy="18.0" r="6.9" fill="#fff" fill-opacity="0.00" stroke="#8a8a8a" stroke-width="0.90"/><text x="328.8" y="22.1" font-size="11.5" text-anchor="middle" fill="#1c303f" font-family="Liberation Sans, sans-serif" font-weight="bold">8</text>
<circle cx="328.8" cy="49.4" r="6.9" fill="#fff"/>
<ellipse cx="330.8" cy="50.6" rx="11.0" ry="7.0" fill="#8fc8e6" fill-opacity="0.45" stroke="#62b6da" stroke-width="1.2"/>
<circle cx="328.8" cy="49.4" r="6.9" fill="#fff" fill-opacity="0.00" stroke="#8a8a8a" stroke-width="0.90"/><text x="328.8" y="53.5" font-size="11.5" text-anchor="middle" fill="#1c303f" font-family="Liberation Sans, sans-serif" font-weight="bold">8</text>
<circle cx="75.6" cy="386.2" r="6.9" fill="#fff"/>
<ellipse cx="77.9" cy="389.6" rx="11.3" ry="7.6" fill="#8fc8e6" fill-opacity="0.45" stroke="#62b6da" stroke-width="1.2"/>
<circle cx="75.6" cy="386.2" r="6.9" fill="#fff" fill-opacity="0.00" stroke="#8a8a8a" stroke-width="0.90"/><text x="75.6" y="390.3" font-size="11.5" text-anchor="middle" fill="#1c303f" font-family="Liberation Sans, sans-serif" font-weight="bold">5</text>
<circle cx="148.7" cy="428.1" r="6.9" fill="#fff"/>
<ellipse cx="149.8" cy="431.0" rx="11.0" ry="7.5" fill="#8fc8e6" fill-opacity="0.45" stroke="#62b6da" stroke-width="1.2"/>
<circle cx="148.7" cy="428.1" r="6.9" fill="#fff" fill-opacity="0.00" stroke="#8a8a8a" stroke-width="0.90"/><text x="148.7" y="432.2" font-size="11.5" text-anchor="middle" fill="#1c303f" font-family="Liberation Sans, sans-serif" font-weight="bold">3</text>
<circle cx="180.0" cy="446.8" r="6.9" fill="#fff"/>
<ellipse cx="182.6" cy="448.8" rx="11.2" ry="7.4" fill="#8fc8e6" fill-opacity="0.45" stroke="#62b6da" stroke-width="1.2"/>
<circle cx="180.0" cy="446.8" r="6.9" fill="#fff" fill-opacity="0.00" stroke="#8a8a8a" stroke-width="0.90"/><text x="180.0" y="450.9" font-size="11.5" text-anchor="middle" fill="#1c303f" font-family="Liberation Sans, sans-serif" font-weight="bold">4</text>
<circle cx="194.2" cy="520.8" r="6.9" fill="#fff"/>
<ellipse cx="195.7" cy="524.7" rx="11.4" ry="7.0" fill="#8fc8e6" fill-opacity="0.45" stroke="#62b6da" stroke-width="1.2"/>
<circle cx="194.2" cy="520.8" r="6.9" fill="#fff" fill-opacity="0.00" stroke="#8a8a8a" stroke-width="0.90"/><text x="194.2" y="524.9" font-size="11.5" text-anchor="middle" fill="#1c303f" font-family="Liberation Sans, sans-serif" font-weight="bold">1</text>
<circle cx="339.8" cy="535.3" r="6.9" fill="#fff"/>
<ellipse cx="340.9" cy="540.3" rx="11.3" ry="6.4" fill="#8fc8e6" fill-opacity="0.45" stroke="#62b6da" stroke-width="1.2"/>
<circle cx="339.8" cy="535.3" r="6.9" fill="#fff" fill-opacity="0.00" stroke="#8a8a8a" stroke-width="0.90"/><text x="339.8" y="539.4" font-size="11.5" text-anchor="middle" fill="#1c303f" font-family="Liberation Sans, sans-serif" font-weight="bold">4</text>
<circle cx="369.8" cy="553.3" r="6.9" fill="#fff"/>
<ellipse cx="373.7" cy="557.9" rx="11.3" ry="6.4" fill="#8fc8e6" fill-opacity="0.45" stroke="#62b6da" stroke-width="1.2"/>
<circle cx="369.8" cy="553.3" r="6.9" fill="#fff" fill-opacity="0.00" stroke="#8a8a8a" stroke-width="0.90"/><text x="369.8" y="557.4" font-size="11.5" text-anchor="middle" fill="#1c303f" font-family="Liberation Sans, sans-serif" font-weight="bold">3</text>
<circle cx="416.8" cy="596.2" r="6.9" fill="#fff"/>
<ellipse cx="420.6" cy="602.1" rx="11.3" ry="6.4" fill="#8fc8e6" fill-opacity="0.45" stroke="#62b6da" stroke-width="1.2"/>
<circle cx="416.8" cy="596.2" r="6.9" fill="#fff" fill-opacity="0.00" stroke="#8a8a8a" stroke-width="0.90"/><text x="416.8" y="600.3" font-size="11.5" text-anchor="middle" fill="#1c303f" font-family="Liberation Sans, sans-serif" font-weight="bold">2</text>
<circle cx="282.2" cy="87.0" r="7.1" fill="#fff" fill-opacity="1.00" stroke="#5e5e5e" stroke-width="1.00"/><text x="282.2" y="91.3" font-size="12.0" text-anchor="middle" fill="#151515" font-family="Liberation Sans, sans-serif" font-weight="bold">7</text>
<circle cx="185.2" cy="199.0" r="7.1" fill="#fff" fill-opacity="1.00" stroke="#5e5e5e" stroke-width="1.00"/><text x="185.2" y="203.3" font-size="12.0" text-anchor="middle" fill="#151515" font-family="Liberation Sans, sans-serif" font-weight="bold">6</text>
<ellipse cx="330.8" cy="208.8" rx="30" ry="25.5" fill="#e84040" fill-opacity="0.21" stroke="#c93b39" stroke-width="1.6"/>
<ellipse cx="332.3" cy="279.0" rx="30" ry="25.5" fill="#e84040" fill-opacity="0.21" stroke="#c93b39" stroke-width="1.6"/>
<circle cx="328.5" cy="207.4" r="7.0" fill="#fad8d8" fill-opacity="1.00" stroke="#6a5555" stroke-width="1.00"/><text x="328.5" y="211.7" font-size="12.0" text-anchor="middle" fill="#1a1111" font-family="Liberation Sans, sans-serif" font-weight="bold">9</text>
<circle cx="329.4" cy="277.2" r="7.0" fill="#fad8d8" fill-opacity="1.00" stroke="#6a5555" stroke-width="1.00"/><text x="329.4" y="281.5" font-size="12.0" text-anchor="middle" fill="#1a1111" font-family="Liberation Sans, sans-serif" font-weight="bold">9</text>
</g>
</svg>
</body></html>
